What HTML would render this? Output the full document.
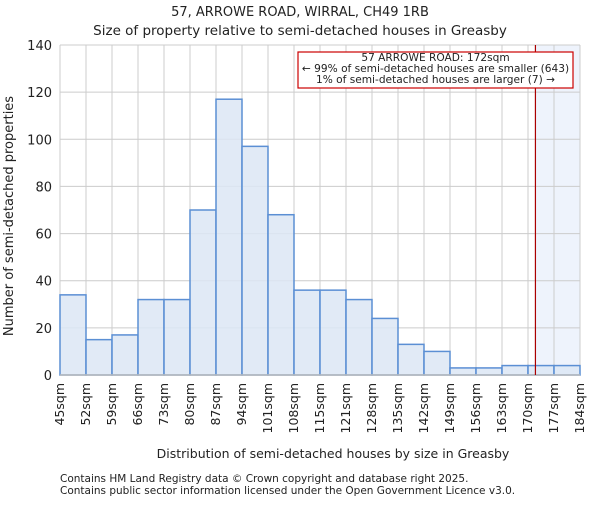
<!DOCTYPE html>
<html><head><meta charset="utf-8"><style>
body{margin:0;background:#fff;}
svg text{font-family:"DejaVu Sans","Liberation Sans",sans-serif;fill:#222;}
</style></head><body>
<svg id="chart" width="600" height="500" viewBox="0 0 600 500">
<text x="300" y="16" font-size="13" text-anchor="middle">57, ARROWE ROAD, WIRRAL, CH49 1RB</text>
<text x="300" y="35" font-size="13.5" text-anchor="middle">Size of property relative to semi-detached houses in Greasby</text>
<g id="plot"></g>
<text x="333" y="458" font-size="12.5" text-anchor="middle">Distribution of semi-detached houses by size in Greasby</text>
<text transform="translate(13,216) rotate(-90)" font-size="13" text-anchor="middle">Number of semi-detached properties</text>
<text x="60" y="482" font-size="10.5">Contains HM Land Registry data © Crown copyright and database right 2025.</text>
<text x="60" y="494" font-size="10.5">Contains public sector information licensed under the Open Government Licence v3.0.</text>
</svg>
<script>
const categories=["45sqm","52sqm","59sqm","66sqm","73sqm","80sqm","87sqm","94sqm","101sqm","108sqm","115sqm","121sqm","128sqm","135sqm","142sqm","149sqm","156sqm","163sqm","170sqm","177sqm","184sqm"];
const counts=[34,15,17,32,32,70,117,97,68,36,36,32,24,13,10,3,3,4,4,4];
const yTicks=[0,20,40,60,80,100,120,140];
const markerBin=18+2/7;
const NS="http://www.w3.org/2000/svg";
const L=60,R=580,T=45,B=375,YMAX=140;
const nb=counts.length;
const xs=i=>L+(R-L)*i/nb;
const ys=v=>B-(B-T)*v/YMAX;
const g=document.getElementById('plot');
function mk(t,a){const e=document.createElementNS(NS,t);for(const k in a)e.setAttribute(k,a[k]);g.appendChild(e);return e;}
let e=mk('rect',{x:xs(markerBin),y:T,width:R-xs(markerBin),height:B-T,fill:'#eef3fc'});


for(let i=0;i<=nb;i++){e=mk('line',{x1:xs(i),x2:xs(i),y1:T,y2:B,stroke:'#ccc','stroke-width':1});

}
yTicks.forEach(v=>{e=mk('line',{x1:L,x2:R,y1:ys(v),y2:ys(v),stroke:'#ccc','stroke-width':1});


const t=mk('text',{x:L-8,y:ys(v)+5,'font-size':13,'text-anchor':'end'});t.textContent=v;

});
counts.forEach((c,i)=>{const b=mk('rect',{x:xs(i),y:ys(c),width:xs(i+1)-xs(i),height:B-ys(c),fill:'#dce6f5',stroke:'#5b8fd4','stroke-width':1.5,'fill-opacity':0.85});

});
categories.forEach((c,i)=>{const x=xs(i)+4;const t=mk('text',{x:x,y:B+8,'font-size':12.5,'text-anchor':'end',transform:`rotate(-90 ${x} ${B+8})`});t.textContent=c;

});
e=mk('line',{x1:L,x2:R,y1:B,y2:B,stroke:'#bbb','stroke-width':1.5});


e=mk('line',{x1:xs(markerBin),x2:xs(markerBin),y1:T,y2:B,stroke:'#a00','stroke-width':1.2});


e=mk('rect',{x:298,y:52,width:275,height:36,fill:'#fff',stroke:'#c00','stroke-width':1.2});


const lines=["57 ARROWE ROAD: 172sqm","← 99% of semi-detached houses are smaller (643)","1% of semi-detached houses are larger (7) →"];
lines.forEach((s,i)=>{const t=mk('text',{x:435.5,y:61+i*11,'font-size':10.6,'text-anchor':'middle'});t.textContent=s;

});
</script>
</body></html>
